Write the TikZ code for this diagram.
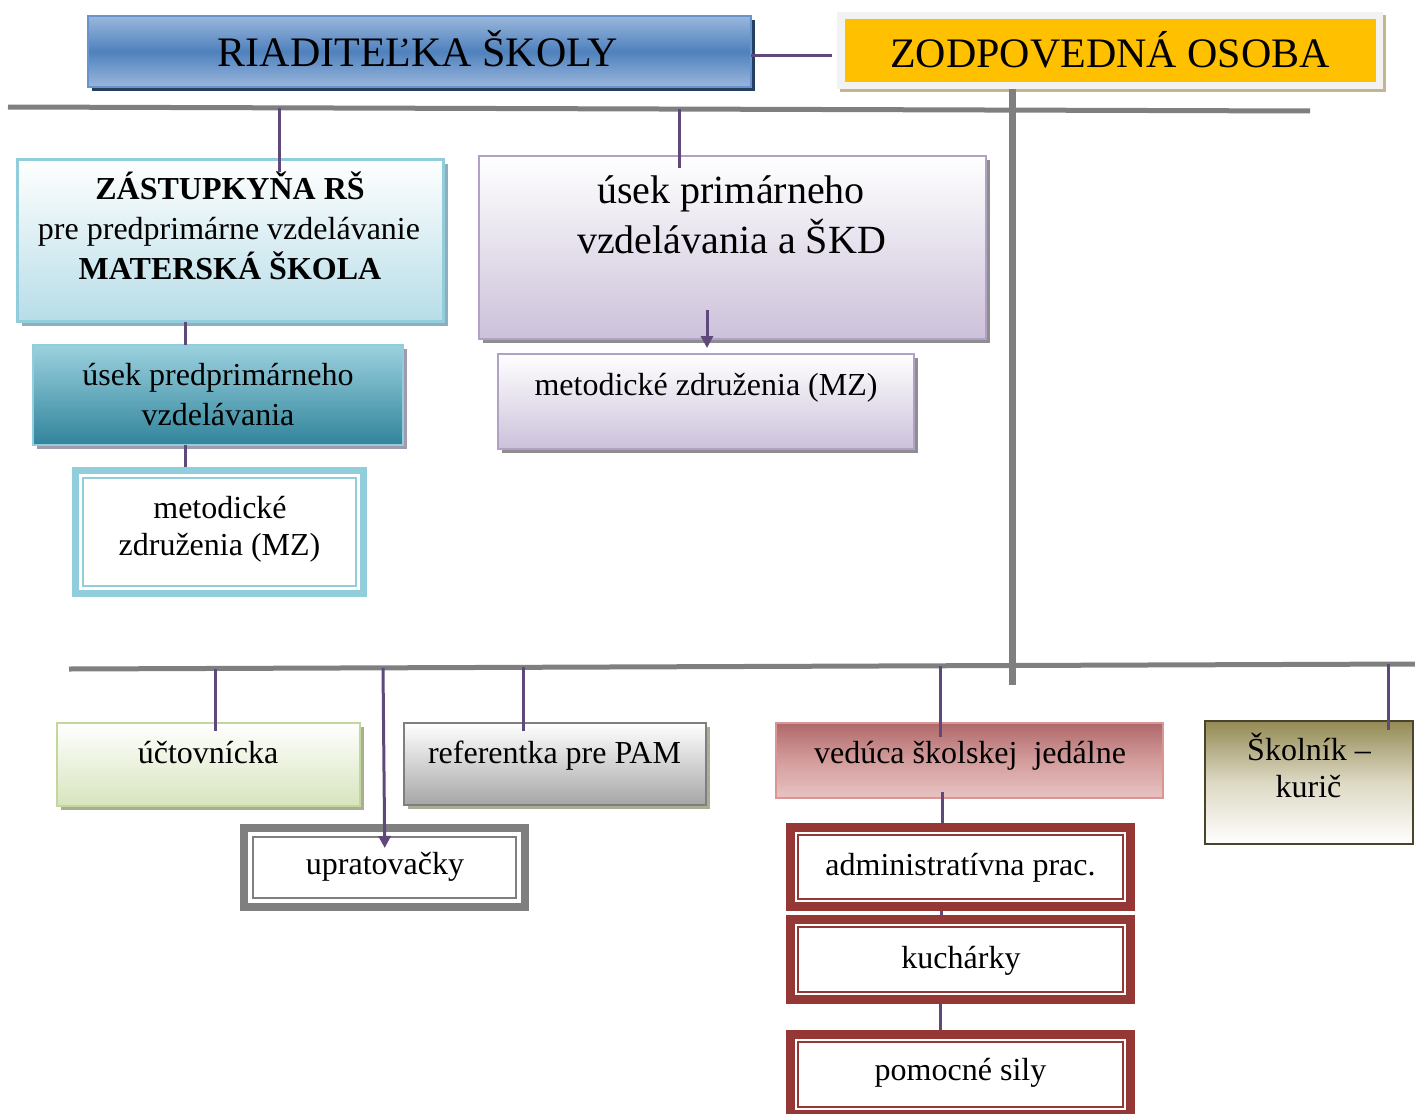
\documentclass[tikz,border=0pt]{standalone}
\usepackage{fontspec}
\setmainfont{Liberation Serif}
\usetikzlibrary{arrows.meta}
\definecolor{cpurple}{HTML}{5F497A}
\definecolor{cgray}{HTML}{7F7F7F}
\definecolor{riadtop}{HTML}{9AB7DC}
\definecolor{riadmid}{HTML}{4F81BD}
\definecolor{riadbdr}{HTML}{6893CB}
\definecolor{riadsh}{HTML}{243F60}
\definecolor{zodgold}{HTML}{FFC000}
\definecolor{zodframe}{HTML}{F2F2F2}
\definecolor{zodsh}{HTML}{C4B58F}
\definecolor{zastbot}{HTML}{B7DDE8}
\definecolor{zastbdr}{HTML}{92CDDC}
\definecolor{zastsh}{HTML}{8DAEBD}
\definecolor{predtop}{HTML}{9BD1DF}
\definecolor{predbot}{HTML}{31849B}
\definecolor{predsh}{HTML}{A09AAF}
\definecolor{primbot}{HTML}{CCC1DA}
\definecolor{primbdr}{HTML}{B2A1C7}
\definecolor{primsh}{HTML}{8E8E8E}
\definecolor{uctbot}{HTML}{D7E4BD}
\definecolor{uctbdr}{HTML}{C3D69B}
\definecolor{uctsh}{HTML}{A8AE92}
\definecolor{refbot}{HTML}{A6A6A6}
\definecolor{refsh}{HTML}{A9AE96}
\definecolor{vedtop}{HTML}{B0696A}
\definecolor{vedmid}{HTML}{D49C9C}
\definecolor{vedbot}{HTML}{E8C3C3}
\definecolor{vedbdr}{HTML}{D99694}
\definecolor{redband}{HTML}{953735}
\definecolor{skoltop}{HTML}{948A54}
\definecolor{skolmid}{HTML}{DDD9C4}
\definecolor{skolbdr}{HTML}{4A452A}
\newcommand\myinnerframe[3]{\draw[#1,line width=2pt] ([xshift=#3,yshift=-#3]#2.north west) rectangle ([xshift=-#3,yshift=#3]#2.south east);}
\begin{document}
\begin{tikzpicture}[x=1pt,y=-1pt,
  box/.style={rectangle, inner sep=0pt, outer sep=0pt, line width=2pt},
  shadowed/.style={preaction={fill=#1, transform canvas={xshift=4pt,yshift=-4pt}}},
  band/.style={rectangle, inner sep=0pt, draw=#1, fill=white},
  txt/.style={inner sep=0pt, anchor=base, font=\fontsize{32}{38}\selectfont},
  bigtxt/.style={inner sep=0pt, anchor=base, font=\fontsize{42}{50}\selectfont},
  midtxt/.style={inner sep=0pt, anchor=base, font=\fontsize{40}{48}\selectfont},
  conn/.style={draw=cpurple, line width=3pt},
  arr/.style={conn, -{Triangle[width=12pt,length=12pt]}},
  bus/.style={draw=cgray, line width=5pt},
  vbus/.style={draw=cgray, line width=7pt}]
\useasboundingbox (0,0) rectangle (1415,1113);

% ---- boxes ----
\node[box, draw=riadbdr, shadowed=riadsh, top color=riadtop, bottom color=riadtop, middle color=riadmid,
  minimum width=663pt, minimum height=71pt] (riad) at (419.5,51.5) {};
\node[box, line width=0pt, fill=zodframe, preaction={fill=zodsh, transform canvas={xshift=3pt,yshift=-3pt}},
  minimum width=546pt, minimum height=77pt] (zod) at (1110,50.5) {};
\fill[zodgold] ([xshift=8pt,yshift=-7pt]zod.north west) rectangle ([xshift=-7pt,yshift=7pt]zod.south east);

\node[box, line width=3pt, draw=zastbdr, shadowed=zastsh, top color=white, bottom color=zastbot,
  minimum width=426pt, minimum height=162pt] (zast) at (230.5,240.5) {};
\node[box, draw=zastbdr, shadowed=predsh, top color=predtop, bottom color=predbot,
  minimum width=370pt, minimum height=100pt] (pred) at (218,395) {};
\node[band=zastbdr, line width=7pt, outer sep=3.5pt,
  minimum width=288pt, minimum height=123pt] (lmz) at (219.5,532) {};
\myinnerframe{zastbdr}{lmz}{11pt}

\node[box, draw=primbdr, shadowed=primsh, top color=white, bottom color=primbot,
  minimum width=507pt, minimum height=183pt] (prim) at (732.5,247.5) {};
\node[box, draw=primbdr, shadowed=primsh, top color=white, bottom color=primbot,
  minimum width=416pt, minimum height=95pt] (mz2) at (706,401.5) {};

\node[box, draw=uctbdr, shadowed=uctsh, top color=white, bottom color=uctbot,
  minimum width=303pt, minimum height=83pt] (uct) at (208.5,764.5) {};
\node[box, draw=cgray, shadowed=refsh, top color=white, bottom color=refbot,
  minimum width=302pt, minimum height=82pt] (ref) at (555,764) {};
\node[band=cgray, line width=8pt, outer sep=4pt,
  minimum width=281pt, minimum height=79pt] (upr) at (384.5,867.5) {};
\myinnerframe{cgray}{upr}{13pt}

\node[box, draw=vedbdr, top color=vedtop, bottom color=vedbot, middle color=vedmid,
  minimum width=387pt, minimum height=75pt] (ved) at (969.5,760.5) {};
\node[band=redband, line width=9pt, outer sep=4.5pt,
  minimum width=340pt, minimum height=79pt] (adm) at (960.5,867) {};
\myinnerframe{redband}{adm}{12pt}
\node[band=redband, line width=9pt, outer sep=4.5pt,
  minimum width=340pt, minimum height=80pt] (kuch) at (960.5,959.5) {};
\myinnerframe{redband}{kuch}{12pt}
\node[band=redband, line width=9pt, outer sep=4.5pt,
  minimum width=340pt, minimum height=80pt] (pom) at (960.5,1074.5) {};
\myinnerframe{redband}{pom}{12pt}

\node[box, draw=skolbdr, top color=skoltop, bottom color=white, middle color=skolmid,
  minimum width=208pt, minimum height=123pt] (skol) at (1309,782.5) {};

% ---- texts ----
\node[bigtxt] (riadt) at (418,67) {RIADITEĽKA ŠKOLY};
\node[bigtxt] (zodt) at (1110,68) {ZODPOVEDNÁ OSOBA};
\node[txt, font=\fontsize{32}{38}\selectfont\bfseries] (zast1) at (230,199) {ZÁSTUPKYŇA RŠ};
\node[txt] (zast2) at (229,239) {pre predprimárne vzdelávanie};
\node[txt, font=\fontsize{32}{38}\selectfont\bfseries] (zast3) at (230,279) {MATERSKÁ ŠKOLA};
\node[txt] (pred1) at (218,385) {úsek predprimárneho};
\node[txt] (pred2) at (218,425) {vzdelávania};
\node[txt] (lmz1) at (220,518) {metodické};
\node[txt] (lmz2) at (219.5,555) {združenia (MZ)};
\node[midtxt] (prim1) at (731,203) {úsek primárneho};
\node[midtxt] (prim2) at (731.5,253) {vzdelávania a ŠKD};
\node[txt] (mz2t) at (706,395) {metodické združenia (MZ)};
\node[txt] (uctt) at (208,763) {účtovnícka};
\node[txt] (reft) at (554.5,763) {referentka pre PAM};
\node[txt] (uprt) at (385,874) {upratovačky};
\node[txt] (vedt) at (970,763) {vedúca školskej\ \ jedálne};
\node[txt] (admt) at (960.5,875) {administratívna prac.};
\node[txt] (kucht) at (961,968) {kuchárky};
\node[txt] (pomt) at (960.5,1080) {pomocné sily};
\node[txt] (skol1) at (1309,760) {Školník –};
\node[txt] (skol2) at (1308.5,797) {kurič};

% ---- buses ----
\coordinate (busL) at (8,107);
\coordinate (busR) at (1310,111);
\draw[bus] (busL) -- (busR);
\coordinate (bbL) at (69,669);
\coordinate (bbR) at (1415,664);
\draw[bus] (bbL) -- (bbR);
\coordinate (g1) at (1012,685);
\draw[vbus] (zod.south -| g1) -- (g1);

% ---- connectors ----
\draw[conn, shorten >=5pt] ([yshift=-4.5pt]riad.east) -- ([yshift=-4.5pt]riad.east -| zod.west);
\coordinate (t1) at (279,108);
\coordinate (t2) at (679,109);
\draw[conn, shorten >=-12pt] (t1) -- (zast.north -| t1);
\draw[conn, shorten >=-12pt] (t2) -- (prim.north -| t2);
\draw[conn] (zast.south -| 185,0) -- (pred.north -| 185,0);
\draw[conn] (pred.south -| 185,0) -- (lmz.north -| 185,0);
\coordinate (a1) at (707,310);
\draw[arr, shorten >=6pt] (a1) -- (mz2.north -| a1);

\coordinate (b1) at (215,668.5);
\coordinate (b2) at (383,667.8);
\coordinate (b3) at (523,667.3);
\coordinate (b4) at (940,665.8);
\coordinate (b5) at (1388,664.2);
\draw[conn, shorten >=-8pt] (b1) -- (uct.north -| b1);
\draw[arr, shorten >=-24pt] (b2) -- (upr.north);
\draw[conn, shorten >=-8pt] (b3) -- (ref.north -| b3);
\draw[conn, shorten >=-14pt] (b4) -- (ved.north -| b4);
\draw[conn, shorten >=-9pt] (b5) -- (skol.north -| b5);
\draw[conn, shorten <=-6pt] (ved.south -| 942,0) -- (adm.north -| 942,0);
\draw[conn] (adm.south -| 941,0) -- (kuch.north -| 941,0);
\draw[conn] (kuch.south -| 940,0) -- (pom.north -| 940,0);
\end{tikzpicture}
\end{document}
